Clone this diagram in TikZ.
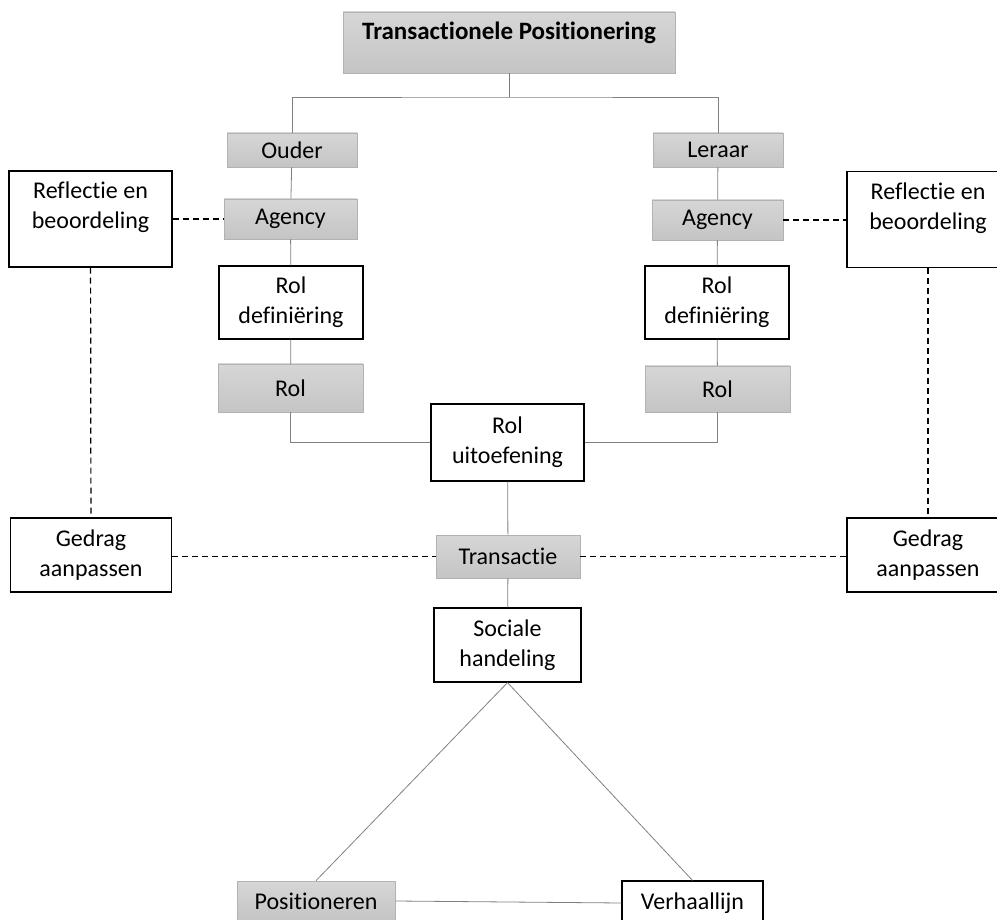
\documentclass[tikz,border=0pt]{standalone}
\usepackage{fontspec}
\setmainfont{Carlito}[Ligatures=NoCommon]
\usepackage{xcolor}
\usepackage{tikz}
\definecolor{linkblue}{RGB}{90,125,190}
\tikzset{
  greybox/.style={
    rectangle, draw=black!30, top color=black!16, bottom color=black!23,
    line width=0.6pt, inner sep=2pt, align=center
  },
  whitebox/.style={
    rectangle, draw=black, fill=white,
    line width=1.2pt, inner sep=2pt, align=center
  },
  link/.style={draw=black!50, line width=0.8pt},
  dashlink/.style={draw=black, line width=1.2pt, dash pattern=on 6pt off 4pt},
}

\begin{document}
\begin{tikzpicture}[x=1pt, y=-1pt, font=\fontsize{24}{30}\selectfont]
    \useasboundingbox (0,0) rectangle (997,920);
    \clip (0,0) rectangle (997,920);

    %% Top
    \node[greybox, minimum width=332pt, minimum height=61pt, text depth=23pt, font=\fontsize{25}{30}\selectfont\bfseries] (title) at (509,42.5) {Transactionele Positionering};
    \coordinate (split) at (509,97);

    %% Left column
    \node[greybox, minimum width=130pt, minimum height=34pt] (ouder) at (292,150) {Ouder};
    \node[greybox, minimum width=133pt, minimum height=40pt] (agencyL) at (290.5,219) {Agency};
    \node[whitebox, minimum width=144pt, minimum height=73pt] (defL) at (291,302.5) {Rol\\definiëring};
    \node[greybox, minimum width=145pt, minimum height=48pt] (rolL) at (290.5,388) {Rol};
    \node[whitebox, minimum width=163pt, minimum height=96pt, text depth=27pt] (reflL) at (90.5,219) {Reflectie en\\beoordeling};
    \node[whitebox, minimum width=161pt, minimum height=74pt] (gedragL) at (91,555) {Gedrag\\aanpassen};

    %% Right column
    \node[greybox, minimum width=130pt, minimum height=34pt] (leraar) at (718,150) {Leraar};
    \node[greybox, minimum width=131pt, minimum height=40pt] (agencyR) at (717.5,220) {Agency};
    \node[whitebox, minimum width=144pt, minimum height=73pt] (defR) at (717,302.5) {Rol\\definiëring};
    \node[greybox, minimum width=145pt, minimum height=46pt] (rolR) at (717.5,389) {Rol};
    \node[whitebox, minimum width=162pt, minimum height=96pt, text depth=27pt] (reflR) at (928,219.5) {Reflectie en\\beoordeling};
    \node[whitebox, minimum width=162pt, minimum height=74pt] (gedragR) at (928,555) {Gedrag\\aanpassen};

    %% Middle
    \node[whitebox, minimum width=153pt, minimum height=77pt] (uitoef) at (507.5,442.5) {Rol\\uitoefening};
    \node[greybox, minimum width=144pt, minimum height=43pt] (trans) at (508,556.5) {Transactie};
    \node[whitebox, minimum width=147pt, minimum height=74pt] (sociaal) at (507.5,645) {Sociale\\handeling};

    %% Bottom
    \node[greybox, minimum width=158pt, minimum height=40pt] (posit) at (316,901) {Positioneren};
    \node[whitebox, minimum width=141pt, minimum height=44pt] (verhaal) at (692.5,903) {Verhaallijn};

    %% Lines
    \draw[link, draw=linkblue] (title.south) -- (split);
    \draw[link] (ouder.north) |- (split) -| (leraar.north);
    \draw[link] (ouder) -- (agencyL);
    \draw[link] (agencyL) -- (defL);
    \draw[link] (defL) -- (rolL);
    \draw[link] (leraar) -- (agencyR);
    \draw[link] (agencyR) -- (defR);
    \draw[link] (defR) -- (rolR);
    \draw[link] (rolL.south) |- (uitoef.west);
    \draw[link] (rolR.south) |- (uitoef.east);
    \draw[link] (uitoef) -- (trans);
    \draw[link] (trans) -- (sociaal);
    \draw[link] (sociaal.south) -- (posit.north);
    \draw[link] (sociaal.south) -- (verhaal.north);
    \draw[link] (posit.east) -- (verhaal.west);

    %% Dashed
    \draw[dashlink] (reflL.east |- agencyL) -- (agencyL.west);
    \draw[dashlink] (agencyR.east) -- (reflR.west |- agencyR);
    \draw[dashlink] (reflL) -- (gedragL);
    \draw[dashlink] (reflR) -- (gedragR);
    \draw[dashlink] (gedragL.east |- trans) -- (trans.west);
    \draw[dashlink] (trans.east) -- (gedragR.west |- trans);

\end{tikzpicture}
\end{document}
